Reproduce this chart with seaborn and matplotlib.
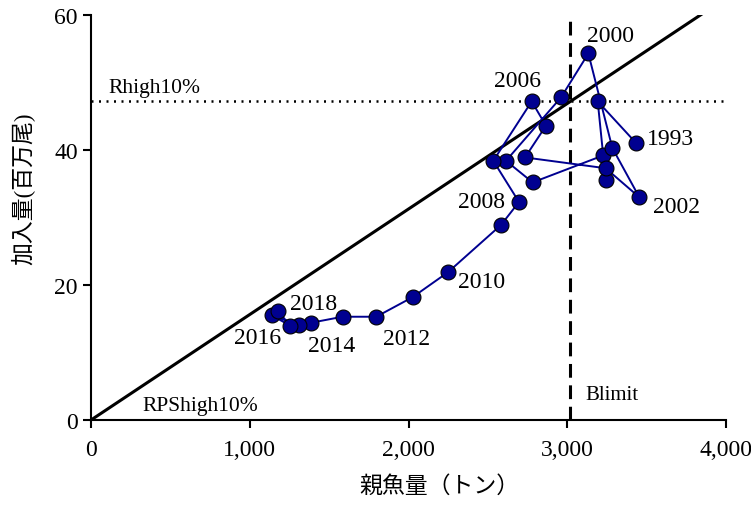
import matplotlib
matplotlib.use("Agg")
import matplotlib.pyplot as plt
import matplotlib.ticker as mticker
import seaborn as sns
import pandas as pd
import numpy as np

# Spawning stock biomass (tons) and recruitment (millions of fish), 1993-2018
years = list(range(1993, 2019))
ssb = [3431, 3192, 3242, 3227, 2782, 2614, 2961, 3133, 3284, 3454,
       3242, 2734, 2866, 2776, 2534, 2696, 2583, 2249, 2026, 1797,
       1585, 1384, 1308, 1138, 1254, 1176]
recruits = [41.1, 47.2, 35.6, 39.2, 35.2, 38.4, 47.8, 54.3, 40.3, 33.0,
            37.3, 38.9, 43.6, 47.2, 38.4, 32.3, 28.9, 21.9, 18.2, 15.3,
            15.3, 14.4, 14.1, 15.5, 14.0, 16.2]

# Reference points
blimit = 3020
rhigh10 = 47.2
rps_high10 = rhigh10 / blimit  # recruits per ton of spawners

# Year labels and their text offsets (points)
label_years = [1993, 2000, 2002, 2006, 2008, 2010, 2012, 2014, 2016, 2018]
label_offsets = [(25, 3), (16, 13), (27, -7), (-10, 15), (-27, 0),
                 (24, -7), (22, -16), (15, -16), (-10, -16), (26, 5)]

df = pd.DataFrame({"year": years, "ssb": ssb, "recruits": recruits})

sns.set_style("ticks")
plt.rcParams["font.family"] = ["Liberation Serif", "Noto Sans CJK JP"]
plt.rcParams.update({
    "text.color": "black",
    "axes.labelcolor": "black",
    "xtick.color": "black",
    "ytick.color": "black",
})

fig = plt.figure(figsize=(7.51, 5.10), dpi=100)
ax = fig.add_axes([0.1212, 0.1745, 0.9667 - 0.1212, 0.9686 - 0.1745])

navy = "#000090"

# Reference lines
xs = np.array([0, 4000])
ax.plot(xs, rps_high10 * xs, color="black", lw=2.2, zorder=1)
ax.axvline(blimit, color="black", lw=2.2, ls=(0, (4.5, 2.5)), zorder=1)
ax.axhline(rhigh10, color="black", lw=1.8, ls=(0, (0.8, 2.2)), zorder=1)

sns.lineplot(data=df, x="ssb", y="recruits", sort=False, estimator=None,
             color=navy, lw=1.4, ax=ax, zorder=2)
sns.scatterplot(data=df, x="ssb", y="recruits", color=navy, s=115,
                edgecolor="black", linewidth=0.8, ax=ax, zorder=3)

for yr, (dx, dy) in zip(label_years, label_offsets):
    row = df[df["year"] == yr].iloc[0]
    ax.annotate(str(yr), (row["ssb"], row["recruits"]), xytext=(dx, dy),
                textcoords="offset points", ha="center", va="center",
                fontsize=17)

ax.text(107, rhigh10 + 0.7, "Rhigh10%", fontsize=15.5, va="bottom", ha="left")
ax.text(321, 0.8, "RPShigh10%", fontsize=15.5, va="bottom", ha="left")
ax.text(3112, 2.4, "Blimit", fontsize=15, va="bottom", ha="left")

ax.set_xlim(0, 4000)
ax.set_ylim(0, 60)
ax.set_xticks([0, 1000, 2000, 3000, 4000])
ax.set_yticks([0, 20, 40, 60])
ax.xaxis.set_major_formatter(mticker.FuncFormatter(lambda v, p: f"{int(v):,}"))
ax.tick_params(axis="both", labelsize=17, direction="out", length=6,
               width=1.5, color="black")
ax.tick_params(axis="x", pad=8)

ax.set_xlabel("親魚量（トン）", fontsize=16.5)
ax.set_ylabel("加入量(百万尾)", fontsize=16.5)
ax.xaxis.set_label_coords(0.548, -0.135)
ax.yaxis.set_label_coords(-0.088, 0.573)

for side in ("top", "right"):
    ax.spines[side].set_visible(False)
for side in ("left", "bottom"):
    ax.spines[side].set_color("black")
    ax.spines[side].set_linewidth(1.5)

fig.savefig("out.png", dpi=100)
